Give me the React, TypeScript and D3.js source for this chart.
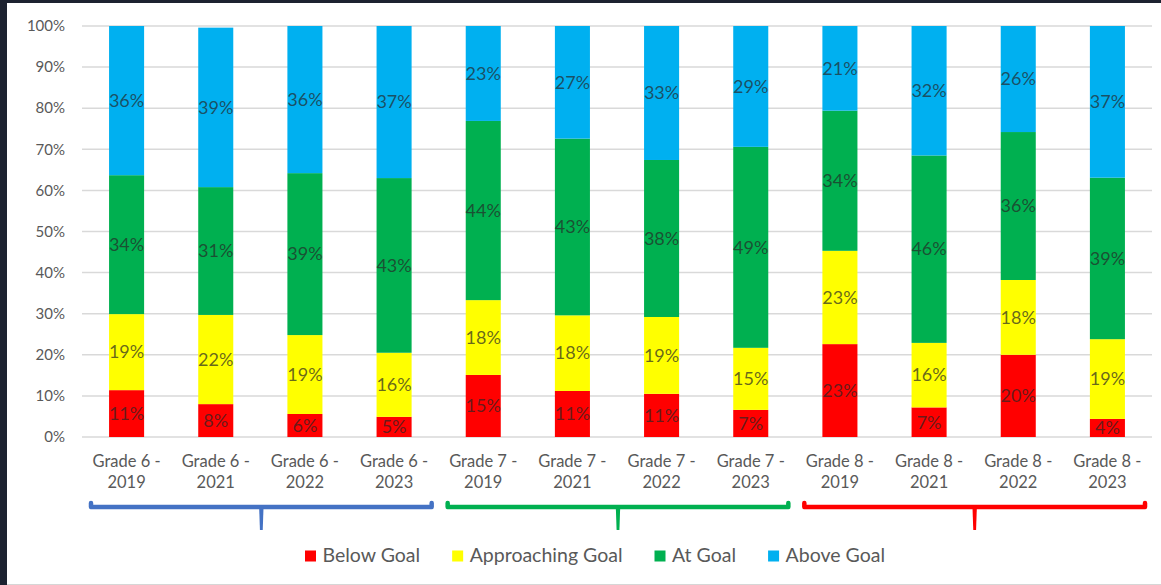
import React, { useEffect, useRef } from "react";
import * as d3 from "d3";

const categories = [
  "Grade 6 - 2019", "Grade 6 - 2021", "Grade 6 - 2022", "Grade 6 - 2023",
  "Grade 7 - 2019", "Grade 7 - 2021", "Grade 7 - 2022", "Grade 7 - 2023",
  "Grade 8 - 2019", "Grade 8 - 2021", "Grade 8 - 2022", "Grade 8 - 2023",
];
const belowGoal = [11.4, 8.0, 5.6, 4.9, 15.1, 11.2, 10.5, 6.6, 22.6, 7.2, 20.0, 4.4];
const approachingGoal = [18.5, 21.7, 19.2, 15.6, 18.2, 18.4, 18.7, 15.1, 22.7, 15.7, 18.2, 19.4];
const atGoal = [33.8, 31.1, 39.4, 42.5, 43.6, 43.0, 38.2, 48.9, 34.1, 45.6, 36.0, 39.3];
const aboveGoal = [36.3, 38.8, 35.8, 37.0, 23.1, 27.4, 32.6, 29.4, 20.6, 31.5, 25.8, 36.9];

const seriesNames = ["Below Goal", "Approaching Goal", "At Goal", "Above Goal"];
const seriesValues = [belowGoal, approachingGoal, atGoal, aboveGoal];
const seriesColors = ["#FF0000", "#FFFF00", "#00B050", "#00B0F0"];
const yTicks = [0, 10, 20, 30, 40, 50, 60, 70, 80, 90, 100];

const groupNames = ["Grade 6", "Grade 7", "Grade 8"];
const groupColors = ["#4472C4", "#00B050", "#FF0000"];

const W = 1161;
const H = 585;
const FONT = "Lato, 'Open Sans', sans-serif";

export default function App() {
  const ref = useRef<SVGSVGElement | null>(null);

  useEffect(() => {
    const svg = d3.select(ref.current);
    svg.selectAll("*").remove();

    // frame
    svg.append("rect").attr("x", 0).attr("y", 0).attr("width", W).attr("height", H).attr("fill", "#1c2230");
    svg.append("rect").attr("x", 7).attr("y", 3).attr("width", W - 7).attr("height", H - 3).attr("fill", "#ffffff");
    svg.append("line").attr("x1", 7).attr("x2", W).attr("y1", 584.5).attr("y2", 584.5).attr("stroke", "#d6d6d6");

    const left = 82, right = 1152, top = 26, bottom = 437;
    const x = d3.scaleBand<string>().domain(categories).range([left, right]).paddingInner(0.607).paddingOuter(0.3035);
    const y = d3.scaleLinear().domain([0, 100]).range([bottom, top]);

    // gridlines
    svg.append("g").selectAll("line").data(yTicks).join("line")
      .attr("x1", left).attr("x2", right)
      .attr("y1", (d) => y(d)).attr("y2", (d) => y(d))
      .attr("stroke", "#d9d9d9").attr("stroke-width", 1.5);

    // y labels
    svg.append("g").selectAll("text").data(yTicks).join("text")
      .attr("x", 65).attr("y", (d) => y(d)).attr("dy", "0.35em")
      .attr("text-anchor", "end").attr("font-family", FONT).attr("font-size", 15)
      .attr("fill", "#595959").text((d) => d + "%");

    const rows = categories.map((c, i) => {
      const r: any = { cat: c };
      seriesNames.forEach((n, si) => { r[n] = seriesValues[si][i]; });
      return r;
    });
    const stacked = d3.stack<any>().keys(seriesNames)(rows);

    const gBars = svg.append("g");
    stacked.forEach((layer, si) => {
      gBars.append("g").selectAll("rect").data(layer).join("rect")
        .attr("x", (d: any) => x(d.data.cat)!)
        .attr("width", x.bandwidth())
        .attr("y", (d: any) => y(d[1]))
        .attr("height", (d: any) => y(d[0]) - y(d[1]))
        .attr("fill", seriesColors[si]);
    });
    stacked.forEach((layer, si) => {
      gBars.append("g").selectAll("text").data(layer).join("text")
        .attr("x", (d: any) => x(d.data.cat)! + x.bandwidth() / 2)
        .attr("y", (d: any) => y((d[0] + d[1]) / 2))
        .attr("dy", "0.35em")
        .attr("text-anchor", "middle")
        .attr("font-family", FONT).attr("font-size", 18)
        .attr("fill", "#262626").attr("fill-opacity", 0.7)
        .text((d: any, i: number) => Math.round(seriesValues[si][i] + 1e-9) + "%");
    });

    // category labels
    const gCat = svg.append("g");
    categories.forEach((c) => {
      const [a, b] = c.split(" - ");
      const cx = x(c)! + x.bandwidth() / 2;
      const t = gCat.append("text").attr("text-anchor", "middle")
        .attr("font-family", FONT).attr("font-size", 16.5).attr("fill", "#595959");
      t.append("tspan").attr("x", cx).attr("y", 467).text(a + " -");
      t.append("tspan").attr("x", cx).attr("y", 488).text(b);
    });

    // group brackets
    const step = x.step();
    const gBr = svg.append("g");
    groupNames.forEach((g, gi) => {
      const cats = categories.filter((c) => c.startsWith(g));
      const x0 = x(cats[0])! - x.paddingOuter() * step + 9;
      const x1 = x(cats[cats.length - 1])! + x.bandwidth() + x.paddingOuter() * step - 7;
      const yb = 507;
      const xc = (x0 + x1) / 2;
      gBr.append("path")
        .attr("d", `M${x0},${yb - 4} L${x0},${yb} L${x1},${yb} L${x1},${yb - 4}`)
        .attr("fill", "none").attr("stroke", groupColors[gi]).attr("stroke-width", 4.5)
        .attr("stroke-linejoin", "round").attr("stroke-linecap", "round");
      gBr.append("path")
        .attr("d", `M${xc - 2.2},${yb} L${xc + 2.2},${yb} L${xc + 1.4},${yb + 23} L${xc - 1.4},${yb + 23} Z`)
        .attr("fill", groupColors[gi]);
    });

    // legend
    const gLeg = svg.append("g");
    let cx = 0;
    const sq = 11, gapText = 6.5, gapItem = 32;
    seriesNames.forEach((n, i) => {
      const it = gLeg.append("g").attr("transform", `translate(${cx},0)`);
      it.append("rect").attr("x", 0).attr("y", 550.5).attr("width", sq).attr("height", sq).attr("fill", seriesColors[i]);
      const t = it.append("text").attr("x", sq + gapText).attr("y", 562)
        .attr("font-family", FONT).attr("font-size", 19.5).attr("fill", "#595959").text(n);
      const tw = (t.node() as SVGTextElement).getComputedTextLength();
      cx += sq + gapText + tw + gapItem;
    });
    const totalW = cx - gapItem;
    gLeg.attr("transform", `translate(${595 - totalW / 2},0)`);
  }, []);

  return (
    <svg ref={ref} width={W} height={H} style={{ position: "absolute", left: 0, top: 0, display: "block" }} />
  );
}
